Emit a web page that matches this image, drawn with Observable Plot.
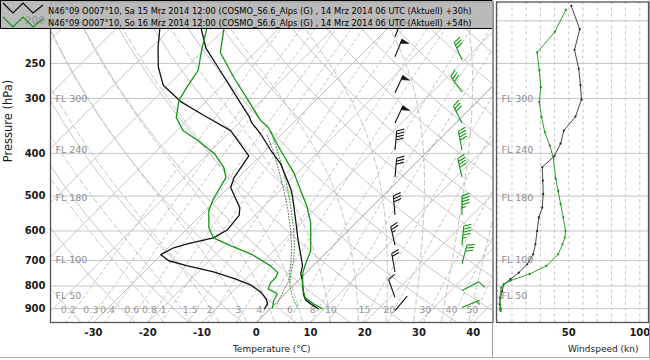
<!DOCTYPE html>
<html><head><meta charset="utf-8">
<script src="https://cdn.jsdelivr.net/npm/d3@7"></script>
<script src="https://cdn.jsdelivr.net/npm/@observablehq/plot@0.6"></script>
<style>
body{margin:0;background:#fff;}
#fig{position:relative;width:650px;height:360px;overflow:hidden;background:#fff;font-family:"DejaVu Sans",sans-serif;}
#main,#ws{position:absolute;top:0;}
#main{left:0}
#ws{left:494px}
#fig g[aria-label^="x-axis"] text,#fig g[aria-label^="y-axis"] text{font-weight:bold;font-size:10px;fill:#1a1a1a;font-family:"DejaVu Sans",sans-serif;}
.ln{position:absolute;background:#9a9a9a;}
</style></head><body>
<div id="fig">
  <div id="main"></div>
  <div id="ws"></div>
  <svg id="leg" width="494" height="30" style="position:absolute;left:0;top:0">
    <rect x="0.5" y="0.5" width="492" height="28" fill="rgba(178,178,178,0.88)" stroke="#000" stroke-width="1"/>
    <polyline points="3,3 13,13 23,3 33,13 43,5" fill="none" stroke="#000" stroke-width="1.1"/>
    <polyline points="3,17 13,27 23,17 33,27 43,19" fill="none" stroke="#129612" stroke-width="1.1"/>
    <text id="lt1" x="48" y="14" font-family="DejaVu Sans" font-size="8.3" fill="#000"></text>
    <text id="lt2" x="48" y="26" font-family="DejaVu Sans" font-size="8.3" fill="#000"></text>
  </svg>
  <div class="ln" style="left:492px;top:0;width:1px;height:358px"></div>
  <div class="ln" style="left:0;top:357px;width:650px;height:1px;background:#b0b0b0"></div>
  <div class="ln" style="left:649px;top:0;width:1px;height:358px"></div>
</div>
<script>
// ---------- texts ----------
const legendTexts = [
  "N46°09 O007°10, Sa 15 Mrz 2014 12:00 (COSMO_S6.6_Alps (G) , 14 Mrz 2014 06 UTC (Aktuell) +30h)",
  "N46°09 O007°10, So 16 Mrz 2014 12:00 (COSMO_S6.6_Alps (G) , 14 Mrz 2014 06 UTC (Aktuell) +54h)"
];
const isobars = [200, 250, 300, 400, 500, 600, 700, 800, 900];
const tempTicks = [-30, -20, -10, 0, 10, 20, 30, 40];
const windTicks = [50, 100];
const mixRatios = [0.2, 0.3, 0.4, 0.6, 0.8, 1, 1.5, 2, 3, 4, 6, 8, 10, 15, 20, 30, 40, 50];
const mixLabels = ["0.2","0.3","0.4","0.6","0.8","1","1.5","2","3","4","6","8","10","15","20","30","40","50"];
const flLabels = ["FL 300", "FL 240", "FL 180", "FL 100", "FL 50"];
const flPressure = [301, 393, 506, 697, 843];

// ---------- profiles [pressure hPa, temperature °C] ----------
const temp30 = [[187,-68.2],[210,-64.0],[231,-59.8],[255,-54.1],[291,-46.5],[331,-39.1],[340,-37.8],[361,-34.0],[394,-29.0],[422,-24.8],[481,-18.3],[504,-16.3],[560,-12.1],[632,-7.3],[676,-4.5],[720,-1.9],[750,-0.8],[778,0.8],[833,3.4],[860,4.9],[877,6.5],[901,8.9]];
const dew30 = [[187,-75.8],[210,-71.7],[230,-68.8],[255,-65.1],[280,-60.9],[306,-54.4],[328,-47.8],[355,-40.1],[405,-32.1],[454,-30.8],[478,-29.6],[507,-26.6],[531,-24.2],[553,-22.9],[596,-22.4],[622,-23.5],[642,-27.2],[655,-29.0],[679,-30.1],[701,-27.5],[720,-23.1],[743,-17.2],[771,-11.9],[795,-8.0],[824,-4.9],[856,-2.5],[877,-1.4],[901,-1.0]];
const temp54 = [[187,-63.6],[210,-59.9],[236,-56.4],[269,-49.3],[306,-41.9],[337,-36.4],[349,-33.8],[394,-27.2],[444,-20.5],[486,-16.1],[526,-12.2],[574,-8.4],[665,-3.2],[713,-1.7],[746,-0.6],[807,2.1],[851,4.5],[878,7.1],[901,9.7]];
const dew54 = [[187,-66.9],[210,-63.1],[233,-60.3],[259,-57.2],[280,-56.3],[303,-55.2],[331,-52.6],[355,-48.9],[374,-44.3],[400,-38.9],[431,-34.5],[454,-32.3],[507,-30.7],[539,-29.4],[590,-26.2],[622,-23.5],[648,-18.9],[676,-13.7],[720,-7.8],[746,-5.2],[766,-4.7],[786,-4.7],[812,-4.0],[833,-1.4],[864,-0.8],[897,0.3]];
const parcel30 = [[364,-32.5],[394,-28.6],[438,-23.8],[486,-19.2],[539,-14.8],[599,-10.6],[665,-6.7],[720,-4.1],[778,-1.7],[820,-0.8],[887,0.6]];
const parcel54 = [[358,-32.3],[390,-28.3],[426,-24.2],[473,-19.6],[526,-15.2],[584,-11.0],[648,-7.1],[701,-4.5],[758,-2.3],[799,-0.6],[842,1.7],[897,4.9]];

// ---------- wind speed profiles [pressure hPa, kn] ----------
const speed30 = [[185,51.7],[209,57.7],[233,54.0],[257,57.0],[280,58.2],[302,58.9],[330,54.7],[355,46.5],[380,44.2],[405,39.9],[430,31.3],[461,31.7],[495,32.0],[531,31.3],[559,28.9],[600,27.7],[643,26.5],[678,24.9],[714,20.7],[746,14.8],[772,8.9],[793,4.2],[821,3.1],[851,1.9],[880,1.4],[904,1.9]];
const speed54 = [[189,47.9],[212,40.1],[236,27.7],[259,29.2],[283,30.3],[306,29.2],[331,30.8],[358,33.1],[384,36.6],[408,39.0],[457,40.8],[486,42.5],[521,44.2],[559,46.1],[600,47.7],[621,47.2],[643,45.6],[678,42.5],[720,34.3],[751,22.5],[778,8.9],[793,4.2],[807,2.4],[851,1.4],[897,1.9],[912,1.9]];

// ---------- wind barbs ----------
const barbP30   = [218, 242, 292, 342, 394, 454, 553, 648, 746, 851, 912];
const barbSpd30 = [50, 50, 50, 50, 40, 30, 30, 25, 20, 10, 0];
const barbDir30 = [22, 22, 25, 25, 5, 5, 355, 347, 350, 340, 40];
const barbP54   = [246, 291, 342, 394, 454, 553, 648, 713, 821, 897];
const barbSpd54 = [30, 30, 30, 40, 40, 45, 45, 30, 10, 5];
const barbDir54 = [336, 324, 333, 349, 347, 0, 5, 15, 63, 68];

// ---------- layout ----------
const W = 494, H = 360, mL = 50, mR = 1.5, mT = 1.5, mB = 38;
const xDom = [-37.93, 43.65], yDom = [968, 181.3];
const pxPerC = (W - mL - mR) / (xDom[1] - xDom[0]);
const pxPerLn = (H - mT - mB) / Math.log(yDom[0] / yDom[1]);
const K = pxPerLn / pxPerC;                       // 45° skew
const sx = (T, p) => T + K * Math.log(yDom[0] / p);

const BLACK = "#111", GREEN = "#129612", GRID = "#c6c6c6", DASH = "#bcbcbc";

// ---------- thermodynamic reference lines ----------
const esat = Tc => 6.112 * Math.exp(17.67 * Tc / (Tc + 243.5));
const tdFromW = (w, p) => { const e = w * p / (622 + w); const l = Math.log(e / 6.112); return 243.5 * l / (17.67 - l); };
function lapse(Tk, p) {
  const Rd = 287.04, cp = 1005.7, L = 2.501e6, eps = 0.622;
  const e = esat(Tk - 273.15), rs = eps * e / (p - e);
  return (Rd * Tk + L * rs) / (p * (cp + L * L * rs * eps / (Rd * Tk * Tk)));
}
const pSteps = d3.range(1050, 149, -10);
const isoLines = [], dryLines = [], moistLines = [], mixLines = [];
d3.range(-130, 51, 10).forEach(T => { isoLines.push({k: T, x: sx(T, 1050), p: 1050}, {k: T, x: sx(T, 150), p: 150}); });
d3.range(-40, 161, 10).forEach(t => {
  const th = 273.15 + t;
  pSteps.forEach(p => dryLines.push({k: t, p, x: sx(th * Math.pow(p / 1000, 0.2857) - 273.15, p)}));
});
d3.range(-15, 41, 5).forEach(t0 => {
  let T = t0 + 273.15;
  for (let p = 1000; p >= 150; p -= 5) {
    moistLines.push({k: t0, p, x: sx(T - 273.15, p)});
    const dp = -5, k1 = lapse(T, p), k2 = lapse(T + k1 * dp, p + dp);
    T += 0.5 * (k1 + k2) * dp;
  }
});
mixRatios.forEach(w => pSteps.forEach(p => mixLines.push({k: w, p, x: sx(tdFromW(w, p), p)})));

// ---------- wind barb mark ----------
function barbs(P, S, D, color, fromRight) {
  return (index, scales, values, dims) => {
    const y = scales && scales.y ? scales.y : d3.scaleLog().domain(yDom).range([H - mB, mT]);
    const dm = dims || {width: W, marginRight: mR};
    const x0 = dm.width - dm.marginRight - fromRight;
    const ns = "http://www.w3.org/2000/svg";
    const g = document.createElementNS(ns, "g");
    const L = 19, F = 8;
    P.forEach((p, i) => {
      const bx = x0, by = y(p);
      const a = D[i] * Math.PI / 180, ux = Math.sin(a), uy = -Math.cos(a);
      const qx = -uy, qy = ux;
      const tx = bx + L * ux, ty = by + L * uy;
      let d = `M${bx},${by}L${tx},${ty}`, fill = "";
      let spd = Math.round(S[i] / 5) * 5, pos = 0;
      const fx = 0.94 * qx + 0.34 * ux, fy = 0.94 * qy + 0.34 * uy;
      while (spd >= 50) {
        const sx0 = tx - pos * ux, sy0 = ty - pos * uy;
        const ex = sx0 + F * qx - 1.5 * ux, ey = sy0 + F * qy - 1.5 * uy;
        const bx1 = sx0 - 4.5 * ux, by1 = sy0 - 4.5 * uy;
        fill += `M${sx0},${sy0}L${ex},${ey}L${bx1},${by1}Z`;
        pos += 6; spd -= 50;
      }
      while (spd >= 10) {
        const sx0 = tx - pos * ux, sy0 = ty - pos * uy;
        d += `M${sx0},${sy0}L${sx0 + F * fx},${sy0 + F * fy}`;
        pos += 3; spd -= 10;
      }
      if (spd >= 5) {
        if (pos === 0) pos = 3;
        const sx0 = tx - pos * ux, sy0 = ty - pos * uy;
        d += `M${sx0},${sy0}L${sx0 + F * 0.5 * fx},${sy0 + F * 0.5 * fy}`;
      }
      const path = document.createElementNS(ns, "path");
      path.setAttribute("d", d); path.setAttribute("stroke", color); path.setAttribute("fill", "none"); path.setAttribute("stroke-width", "1.1");
      g.appendChild(path);
      if (fill) {
        const f = document.createElementNS(ns, "path");
        f.setAttribute("d", fill); f.setAttribute("fill", color); f.setAttribute("stroke", color); f.setAttribute("stroke-width", "0.6");
        g.appendChild(f);
      }
    });
    return g;
  };
}

const prof = (arr) => arr.map(([p, T]) => ({p, x: sx(T, p)}));

const main = Plot.plot({
  width: W, height: H, marginLeft: mL, marginRight: mR, marginTop: mT, marginBottom: mB,
  style: {fontFamily: "DejaVu Sans, sans-serif", fontSize: "10px", background: "#fff", color: "#1a1a1a"},
  x: {domain: xDom, ticks: tempTicks, tickSize: 0, tickPadding: 6, label: null, tickFormat: d => d},
  y: {type: "log", domain: yDom, ticks: isobars, tickSize: 0, tickPadding: 5, label: null, tickFormat: d => d},
  marks: [
    Plot.ruleY(isobars, {stroke: GRID, strokeWidth: 1}),
    Plot.line(mixLines, {x: "x", y: "p", z: "k", stroke: DASH, strokeWidth: 0.9, strokeDasharray: "3,3", clip: true}),
    Plot.line(moistLines, {x: "x", y: "p", z: "k", stroke: DASH, strokeWidth: 0.9, strokeDasharray: "5,3", clip: true}),
    Plot.line(dryLines, {x: "x", y: "p", z: "k", stroke: GRID, strokeWidth: 1, clip: true}),
    Plot.line(isoLines, {x: "x", y: "p", z: "k", stroke: d => d.k === 0 ? "#9a9a9a" : GRID, strokeWidth: 1, clip: true}),
    Plot.text(mixRatios, {x: w => sx(tdFromW(w, 950), 950), y: () => 905, text: (d, i) => mixLabels[i], fill: "#9a9a9a", fontSize: 9.5, clip: true}),
    Plot.text(flPressure, {frameAnchor: "left", y: d => d, text: (d, i) => flLabels[i], textAnchor: "start", dx: 5, fill: "#8e8e8e", fontSize: 9.5}),
    Plot.line(prof(parcel30), {x: "x", y: "p", stroke: "#555", strokeWidth: 0.9, strokeDasharray: "1,2"}),
    Plot.line(prof(parcel54), {x: "x", y: "p", stroke: GREEN, strokeWidth: 0.9, strokeDasharray: "1,2"}),
    Plot.line(prof(dew30), {x: "x", y: "p", stroke: BLACK, strokeWidth: 1.3, clip: true}),
    Plot.line(prof(temp30), {x: "x", y: "p", stroke: BLACK, strokeWidth: 1.3, clip: true}),
    Plot.line(prof(dew54), {x: "x", y: "p", stroke: GREEN, strokeWidth: 1.3, clip: true}),
    Plot.line(prof(temp54), {x: "x", y: "p", stroke: GREEN, strokeWidth: 1.3, clip: true}),
    barbs(barbP30, barbSpd30, barbDir30, BLACK, 97.5),
    barbs(barbP54, barbSpd54, barbDir54, GREEN, 30.5),
    Plot.frame({stroke: "#555", strokeWidth: 1.3}),
    Plot.text(["Temperature (°C)"], {frameAnchor: "bottom", dy: 29, fontSize: 9, fill: "#1a1a1a"}),
    Plot.text(["Pressure (hPa)"], {frameAnchor: "left", dx: -42, rotate: -90, fontSize: 11.5, fill: "#1a1a1a"})
  ]
});
document.getElementById("main").appendChild(main);

const ws = Plot.plot({
  width: 156, height: H, marginLeft: 2, marginRight: 2, marginTop: mT, marginBottom: mB,
  style: {fontFamily: "DejaVu Sans, sans-serif", fontSize: "10px", background: "#fff", color: "#1a1a1a"},
  x: {domain: [-0.9, 106.1], ticks: windTicks, tickSize: 0, tickPadding: 6, label: null, tickFormat: d => d},
  y: {type: "log", domain: yDom, axis: null},
  marks: [
    Plot.ruleX(d3.range(0, 101, 10), {stroke: DASH, strokeWidth: 0.9, strokeDasharray: "3,3"}),
    Plot.ruleY(isobars, {stroke: GRID, strokeWidth: 1}),
    Plot.text(flPressure, {frameAnchor: "left", y: d => d, text: (d, i) => flLabels[i], textAnchor: "start", dx: 5, fill: "#8e8e8e", fontSize: 9.5}),
    Plot.line(speed30, {x: d => d[1], y: d => d[0], stroke: "#333", strokeWidth: 0.9}),
    Plot.dot(speed30, {x: d => d[1], y: d => d[0], fill: "#222", r: 1.1}),
    Plot.line(speed54, {x: d => d[1], y: d => d[0], stroke: GREEN, strokeWidth: 0.9}),
    Plot.dot(speed54, {x: d => d[1], y: d => d[0], fill: GREEN, r: 1.1}),
    Plot.frame({stroke: "#555", strokeWidth: 1.3}),
    Plot.text(["Windspeed (kn)"], {frameAnchor: "bottom-right", textAnchor: "end", dx: -10, dy: 29, fontSize: 9, fill: "#1a1a1a"})
  ]
});
document.getElementById("ws").appendChild(ws);

document.getElementById("lt1").textContent = legendTexts[0];
document.getElementById("lt2").textContent = legendTexts[1];
</script>
</body></html>
